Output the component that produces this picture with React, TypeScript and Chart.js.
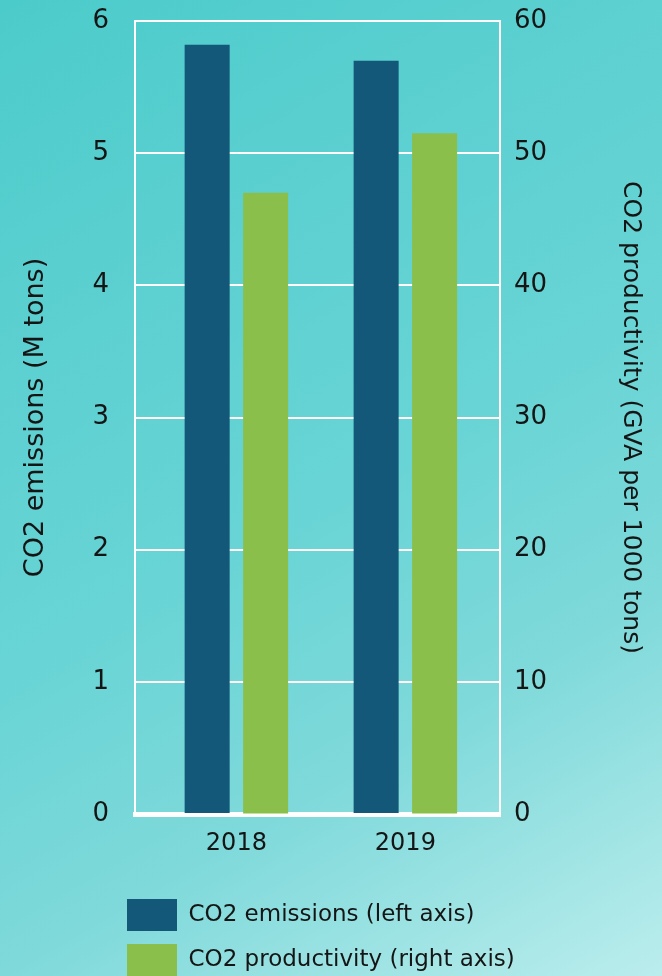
import React, { useEffect, useRef } from 'react';
import { Chart, registerables } from 'chart.js';

Chart.register(...registerables);

// ---- data ----
const categories = ['2018', '2019'];
const emissions = [5.82, 5.7]; // CO2 emissions (M tons), left axis
const productivity = [47, 51.5]; // CO2 productivity (GVA per 1000 tons), right axis
const leftTicks = [0, 1, 2, 3, 4, 5, 6];
const rightTicks = [0, 10, 20, 30, 40, 50, 60];
const seriesNames = ['CO2 emissions (left axis)', 'CO2 productivity (right axis)'];
const axisTitles = ['CO2 emissions (M tons)', 'CO2 productivity (GVA per 1000 tons)'];

const FONT = "'DejaVu Sans', 'Noto Sans', sans-serif";
const TEXT = '#151515';
const DARK = '#135878';
const GREEN = '#8bbf4b';

const legendShift = {
  id: 'legendShift',
  beforeDraw(chart: any) {
    const lg = chart.legend;
    if (!lg) return;
    const pad = lg.options.labels.padding || 0;
    lg.left = chart.chartArea.left - 8 - pad;
  },
};

export default function App() {
  const ref = useRef<HTMLCanvasElement | null>(null);

  useEffect(() => {
    if (!ref.current) return;
    const chart = new Chart(ref.current, {
      type: 'bar',
      data: {
        datasets: [
          {
            label: seriesNames[0],
            data: categories.map((_, i) => ({ x: i, y: emissions[i] })),
            backgroundColor: DARK,
            borderWidth: 0,
            yAxisID: 'y',
            categoryPercentage: 0.692,
            barPercentage: 0.77,
          },
          {
            label: seriesNames[1],
            data: categories.map((_, i) => ({ x: i, y: productivity[i] })),
            backgroundColor: GREEN,
            borderWidth: 0,
            yAxisID: 'y1',
            categoryPercentage: 0.692,
            barPercentage: 0.77,
          },
        ],
      },
      options: {
        responsive: false,
        animation: false,
        layout: { padding: { top: 21, left: 0, right: 0, bottom: 0 } },
        plugins: {
          tooltip: { enabled: false },
          legend: {
            position: 'bottom',
            align: 'start',
            labels: {
              boxWidth: 50,
              boxHeight: 32,
              padding: 13,
              color: TEXT,
              font: { family: FONT, size: 23 },
            },
          },
        },
        scales: {
          x: {
            type: 'linear',
            offset: false,
            min: -0.6,
            max: 1.56,
            grid: { display: false, drawTicks: false, offset: false },
            border: { display: true, color: '#ffffff', width: 5 },
            afterBuildTicks: (s: any) => {
              s.ticks = categories.map((_, i) => ({ value: i }));
            },
            afterFit: (s: any) => {
              s.height = 72;
              s.paddingLeft = 0;
              s.paddingRight = 0;
            },
            ticks: {
              callback: (v: any) => categories[v] ?? '',
              color: TEXT,
              font: { family: FONT, size: 24 },
              padding: 15,
              maxRotation: 0,
            },
          },
          y: {
            position: 'left',
            min: 0,
            max: 6,
            afterBuildTicks: (s: any) => {
              s.ticks = leftTicks.map((v) => ({ value: v }));
            },
            afterFit: (s: any) => {
              s.width = 135;
              s.paddingTop = 0;
              s.paddingBottom = 0;
            },
            grid: { color: '#ffffff', lineWidth: 2, drawTicks: false },
            border: { display: true, color: '#ffffff', width: 2 },
            ticks: { color: TEXT, font: { family: FONT, size: 26 }, padding: 26 },
            title: {
              display: true,
              text: axisTitles[0],
              color: TEXT,
              font: { family: FONT, size: 27 },
              padding: { top: 20, bottom: 0 },
            },
          },
          y1: {
            position: 'right',
            min: 0,
            max: 60,
            afterBuildTicks: (s: any) => {
              s.ticks = rightTicks.map((v) => ({ value: v }));
            },
            afterFit: (s: any) => {
              s.width = 162;
              s.paddingTop = 0;
              s.paddingBottom = 0;
            },
            grid: { drawOnChartArea: false, drawTicks: false },
            border: { display: true, color: '#ffffff', width: 2 },
            ticks: { color: TEXT, font: { family: FONT, size: 26 }, padding: 14 },
            title: {
              display: true,
              text: axisTitles[1],
              color: TEXT,
              font: { family: FONT, size: 25 },
              padding: { top: 17, bottom: 0 },
            },
          },
        },
      } as any,
      plugins: [legendShift],
    });
    return () => chart.destroy();
  }, []);

  return (
    <div
      style={{
        position: 'fixed',
        left: 0,
        top: 0,
        width: '100vw',
        height: '100vh',
        overflow: 'hidden',
        background:
          'linear-gradient(150deg, #4ccbcb 0%, #5dd0d1 28%, #68d4d5 50%, #7fd9da 72%, #bbeded 100%)',
      }}
    >
      <canvas ref={ref} width={662} height={986} style={{ display: 'block' }} />
    </div>
  );
}
